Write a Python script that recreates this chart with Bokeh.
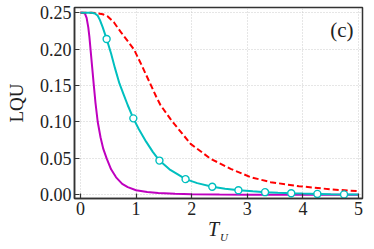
from bokeh.plotting import figure
from bokeh.models import Label, Range1d, FixedTicker, PrintfTickFormatter, LinearAxis
from bokeh.embed import file_html
from bokeh.resources import INLINE

# Magenta curve
m_x = [0, 0.04, 0.08, 0.11, 0.14, 0.16, 0.18, 0.21, 0.24, 0.27, 0.31, 0.36, 0.41, 0.47,
       0.55, 0.64, 0.75, 0.85, 1.0, 1.2, 1.4, 1.7, 2.0, 2.5, 3.0, 4.0, 5.0]
m_y = [0.25, 0.25, 0.249, 0.243, 0.230, 0.217, 0.200, 0.175, 0.150, 0.126, 0.100, 0.079,
       0.063, 0.050, 0.035, 0.024, 0.015, 0.0105, 0.0062, 0.0038, 0.0025, 0.0014, 0.0008,
       0.0004, 0.0002, 0.0001, 0.0]

# Cyan curve
c_x = [0, 0.1, 0.2, 0.26, 0.31, 0.35, 0.40, 0.47, 0.55, 0.62, 0.70, 0.78, 0.85, 0.95, 1.05,
       1.18, 1.30, 1.42, 1.60, 1.75, 1.89, 2.10, 2.37, 2.60, 2.85, 3.10, 3.32, 3.55, 3.79,
       4.00, 4.26, 4.50, 4.74, 5.00]
c_y = [0.25, 0.25, 0.25, 0.249, 0.246, 0.240, 0.230, 0.214, 0.194, 0.174, 0.153, 0.137,
       0.123, 0.105, 0.090, 0.073, 0.059, 0.047, 0.035, 0.028, 0.0215, 0.016, 0.0110,
       0.0082, 0.0062, 0.0047, 0.0036, 0.0028, 0.0021, 0.0016, 0.0012, 0.0008, 0.0005, 0.0003]

# Cyan markers
cm_x = [0.47, 0.95, 1.42, 1.89, 2.37, 2.84, 3.32, 3.79, 4.26, 4.74]
cm_y = [0.214, 0.105, 0.047, 0.0215, 0.0110, 0.0062, 0.0036, 0.0021, 0.0012, 0.0005]

# Red dashed curve
r_x = [0, 0.2, 0.3, 0.4, 0.49, 0.6, 0.73, 0.85, 0.96, 1.1, 1.27, 1.36, 1.44, 1.62, 1.69,
       1.98, 2.34, 2.70, 3.06, 3.42, 3.93, 4.53, 5.0]
r_y = [0.25, 0.25, 0.2495, 0.248, 0.245, 0.237, 0.223, 0.211, 0.200, 0.178, 0.150, 0.135,
       0.123, 0.104, 0.097, 0.070, 0.0495, 0.0357, 0.0242, 0.0173, 0.0118, 0.0073, 0.005]

x_ticks = [0, 1, 2, 3, 4, 5]
y_ticks = [0.0, 0.05, 0.10, 0.15, 0.20, 0.25]

FONT = "Liberation Serif"
DARK = "#333333"
TXT = "#222222"

p = figure(frame_width=288, frame_height=191,
           x_range=Range1d(-0.108, 5.072), y_range=Range1d(-0.0051, 0.2573),
           output_backend="svg", toolbar_location=None,
           min_border_left=74, min_border_right=4, min_border_top=7, min_border_bottom=0)

p.line(m_x, m_y, line_color="#bf00bf", line_width=2)
p.line(r_x, r_y, line_color="#ff0000", line_width=2, line_dash="6 3")
p.line(c_x, c_y, line_color="#00bfbf", line_width=2)
p.scatter(cm_x, cm_y, size=7, fill_color="white", line_color="#00bfbf", line_width=1.4)

p.xaxis.ticker = FixedTicker(ticks=x_ticks)
p.yaxis.ticker = FixedTicker(ticks=y_ticks)
p.yaxis.formatter = PrintfTickFormatter(format="%.2f")

for ax in (p.xaxis, p.yaxis):
    ax.major_tick_in = 5
    ax.major_tick_out = 0
    ax.minor_tick_line_color = None
    ax.major_tick_line_color = DARK
    ax.major_tick_line_width = 1.2
    ax.axis_line_color = DARK
    ax.axis_line_width = 1.5
    ax.major_label_text_font = FONT
    ax.major_label_text_font_size = "18px"
    ax.major_label_text_color = TXT
    ax.major_label_standoff = 3

p.yaxis.axis_label = "LQU"
p.yaxis.axis_label_text_font = FONT
p.yaxis.axis_label_text_font_style = "normal"
p.yaxis.axis_label_text_font_size = "19px"
p.yaxis.axis_label_text_color = TXT
p.yaxis.axis_label_standoff = 10

p.xaxis.axis_label = "T\u00a0\u00a0"
p.xaxis.axis_label_text_font = FONT
p.xaxis.axis_label_text_font_style = "italic"
p.xaxis.axis_label_text_font_size = "20px"
p.xaxis.axis_label_text_color = TXT
p.xaxis.axis_label_standoff = 0

# subscript of the x-axis label
sub_ax = LinearAxis(ticker=FixedTicker(ticks=[]), axis_line_color=None,
                    major_tick_line_color=None, minor_tick_line_color=None,
                    axis_label="\u00a0" * 4 + "U", axis_label_text_font=FONT,
                    axis_label_text_font_style="italic", axis_label_text_font_size="11px",
                    axis_label_text_color=TXT, axis_label_standoff=-12)
p.add_layout(sub_ax, "below")

p.outline_line_color = DARK
p.outline_line_width = 1.5
p.outline_line_alpha = 1

p.grid.grid_line_color = "#c0c0c0"
p.grid.grid_line_dash = "1 2"
p.grid.grid_line_width = 0.8
p.background_fill_color = "white"
p.border_fill_color = "white"

p.add_layout(Label(x=4.70, y=0.226, text="(c)", text_font=FONT, text_font_size="21px",
                   text_color=TXT, text_align="center", text_baseline="middle"))

open("out.html", "w").write(file_html(p, INLINE))
